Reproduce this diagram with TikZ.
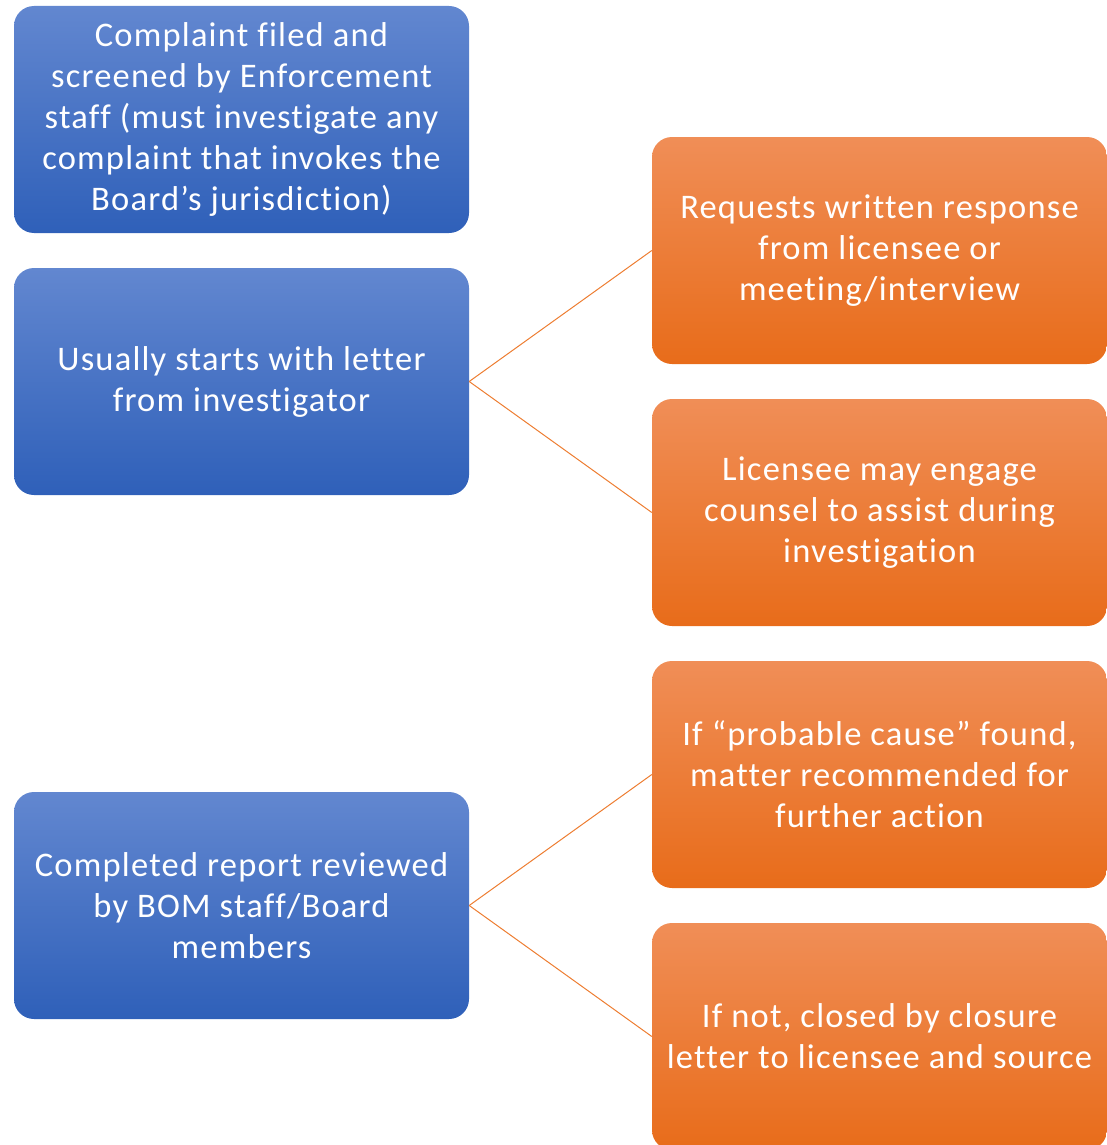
\documentclass[tikz,border=0pt]{standalone}
\usepackage{fontspec}
\setmainfont{Carlito}[Ligatures={NoCommon}, LetterSpace=3.5]
\definecolor{bluetop}{HTML}{6287D0}
\definecolor{bluemid}{HTML}{4572CA}
\definecolor{bluebot}{HTML}{2F60B9}
\definecolor{orgtop}{HTML}{F08E57}
\definecolor{orgmid}{HTML}{F47C2C}
\definecolor{orgbot}{HTML}{E86C1A}
\definecolor{lineorg}{HTML}{ED7D31}
\tikzset{
  boxbase/.style={rectangle, rounded corners=20pt, minimum width=455pt, minimum height=227pt,
    inner sep=0pt, text=white, align=center, font=\fontsize{34.5}{41}\selectfont},
  bluebox/.style={boxbase, top color=bluetop, middle color=bluemid, bottom color=bluebot},
  orgbox/.style={boxbase, top color=orgtop, middle color=orgmid, bottom color=orgbot},
  conn/.style={draw=lineorg, line width=1pt}
}
\begin{document}
\begin{tikzpicture}[x=1pt,y=-1pt]
\useasboundingbox (0,0) rectangle (1107,1145);
\begin{scope}
\clip (0,0) rectangle (1107,1145);
\node[bluebox] (b1) at (241.5,119.5) {Complaint filed and\\screened by Enforcement\\staff (must investigate any\\complaint that invokes the\\Board’s jurisdiction)};
\node[bluebox] (b2) at (241.5,381.5) {Usually starts with letter\\from investigator};
\node[bluebox] (b3) at (241.5,905.5) {Completed report reviewed\\by BOM staff/Board\\members};
\node[orgbox] (oa) at (879.5,250.5) {Requests written response\\from licensee or\\meeting/interview};
\node[orgbox] (ob) at (879.5,512.5) {Licensee may engage\\counsel to assist during\\investigation};
\node[orgbox] (oc) at (879.5,774.5) {If “probable cause” found,\\matter recommended for\\further action};
\node[orgbox] (od) at (879.5,1036.5) {If not, closed by closure\\letter to licensee and source};
\draw[conn] (b2.east) -- (oa.west);
\draw[conn] (b2.east) -- (ob.west);
\draw[conn] (b3.east) -- (oc.west);
\draw[conn] (b3.east) -- (od.west);
\end{scope}
\end{tikzpicture}
\end{document}
